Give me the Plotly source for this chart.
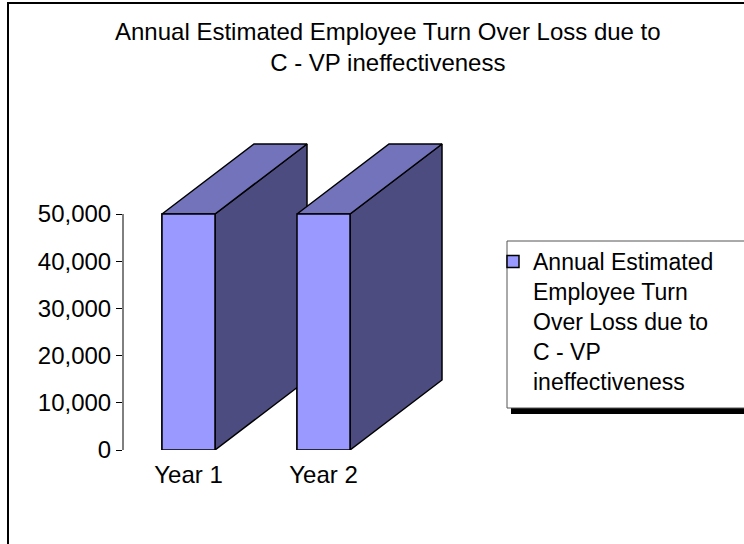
import plotly.graph_objects as go

# ---- data ----
categories = ["Year 1", "Year 2"]
values = [50000, 50000]
series_name = "Annual Estimated<br>Employee Turn<br>Over Loss due to<br>C - VP<br>ineffectiveness"
title_text = "Annual Estimated Employee Turn Over Loss due to<br>C - VP ineffectiveness"
y_ticks = [0, 10000, 20000, 30000, 40000, 50000]

# ---- style / geometry constants ----
W, H = 744, 544
ML, MR, MT, MB = 123, 244, 140, 94
PW, PH = W - ML - MR, H - MT - MB
PX_PER_CAT = 135.0
PX_PER_VAL = 236.0 / 50000.0
X0 = (ML - 188.5) / PX_PER_CAT
XR = [X0, X0 + PW / PX_PER_CAT]
YR = [0, PH / PX_PER_VAL]
BAR_W = 53 / PX_PER_CAT
DX = 92 / PX_PER_CAT
DY = 70 / PX_PER_VAL

FRONT = "#9999FF"
TOP = "#7373BC"
SIDE = "#4C4C80"
EDGE = "black"
FONT = "Liberation Sans, Arial, sans-serif"


def px(x):
    return (x - ML) / PW


def py(y):
    return (H - MB - y) / PH


fig = go.Figure()

# real bar trace (front faces) – also provides legend entry
fig.add_trace(go.Bar(
    x=list(range(len(categories))), y=values, width=BAR_W,
    marker=dict(color=FRONT, line=dict(color=EDGE, width=1.5)),
    name=series_name, hoverinfo="skip", showlegend=True,
))

# 3D faces
for i, v in enumerate(values):
    l, r = i - BAR_W / 2, i + BAR_W / 2
    side = dict(x=[r, r + DX, r + DX, r, r], y=[0, DY, v + DY, v, 0], c=SIDE)
    top = dict(x=[l, r, r + DX, l + DX, l], y=[v, v, v + DY, v + DY, v], c=TOP)
    front = dict(x=[l, r, r, l, l], y=[0, 0, v, v, 0], c=FRONT)
    for f in (side, top, front):
        fig.add_trace(go.Scatter(
            x=f["x"], y=f["y"], mode="lines", fill="toself",
            fillcolor=f["c"], line=dict(color=EDGE, width=1.5),
            showlegend=False, hoverinfo="skip",
        ))

shapes = [
    # chart outer border
    dict(type="rect", xref="paper", yref="paper",
         x0=px(8), x1=px(W + 20), y0=py(H + 20), y1=py(3),
         line=dict(color="black", width=2), fillcolor="rgba(0,0,0,0)", layer="below"),
    # y-axis line (0 .. 50000 only)
    dict(type="line", xref="paper", yref="y", x0=0, x1=0, y0=0, y1=y_ticks[-1],
         line=dict(color="black", width=1)),
    # legend shadow
    dict(type="rect", xref="paper", yref="paper",
         x0=px(511), x1=px(W + 20), y0=py(414), y1=py(408),
         line=dict(width=0), fillcolor="black"),
    # legend box
    dict(type="rect", xref="paper", yref="paper",
         x0=px(507), x1=px(W + 20), y0=py(408), y1=py(241),
         line=dict(color="#555555", width=1), fillcolor="white"),
]

annotations = [
    dict(text=title_text, xref="paper", yref="paper",
         x=px(387.5), xanchor="center", y=py(16), yanchor="top",
         showarrow=False, align="center",
         font=dict(family=FONT, size=24, color="black")),
]

fig.update_layout(
    width=W, height=H,
    margin=dict(l=ML, r=MR, t=MT, b=MB, pad=0),
    paper_bgcolor="white", plot_bgcolor="white",
    font=dict(family=FONT, size=24, color="black"),
    xaxis=dict(range=XR, tickvals=list(range(len(categories))), ticktext=categories,
               showgrid=False, zeroline=False, showline=False, ticks="",
               ticklabelstandoff=8, fixedrange=True),
    yaxis=dict(range=YR, tickvals=y_ticks, tickformat=",",
               showgrid=False, zeroline=False, showline=False,
               ticks="outside", ticklen=6, tickcolor="black", tickwidth=1,
               fixedrange=True),
    legend=dict(x=px(493), xanchor="left", y=py(240), yanchor="top",
                bgcolor="rgba(0,0,0,0)", borderwidth=0, valign="top",
                font=dict(family=FONT, size=23, color="black"),
                itemwidth=30),
    shapes=shapes,
    annotations=annotations,
    showlegend=True,
)

fig.write_html("out.html")
